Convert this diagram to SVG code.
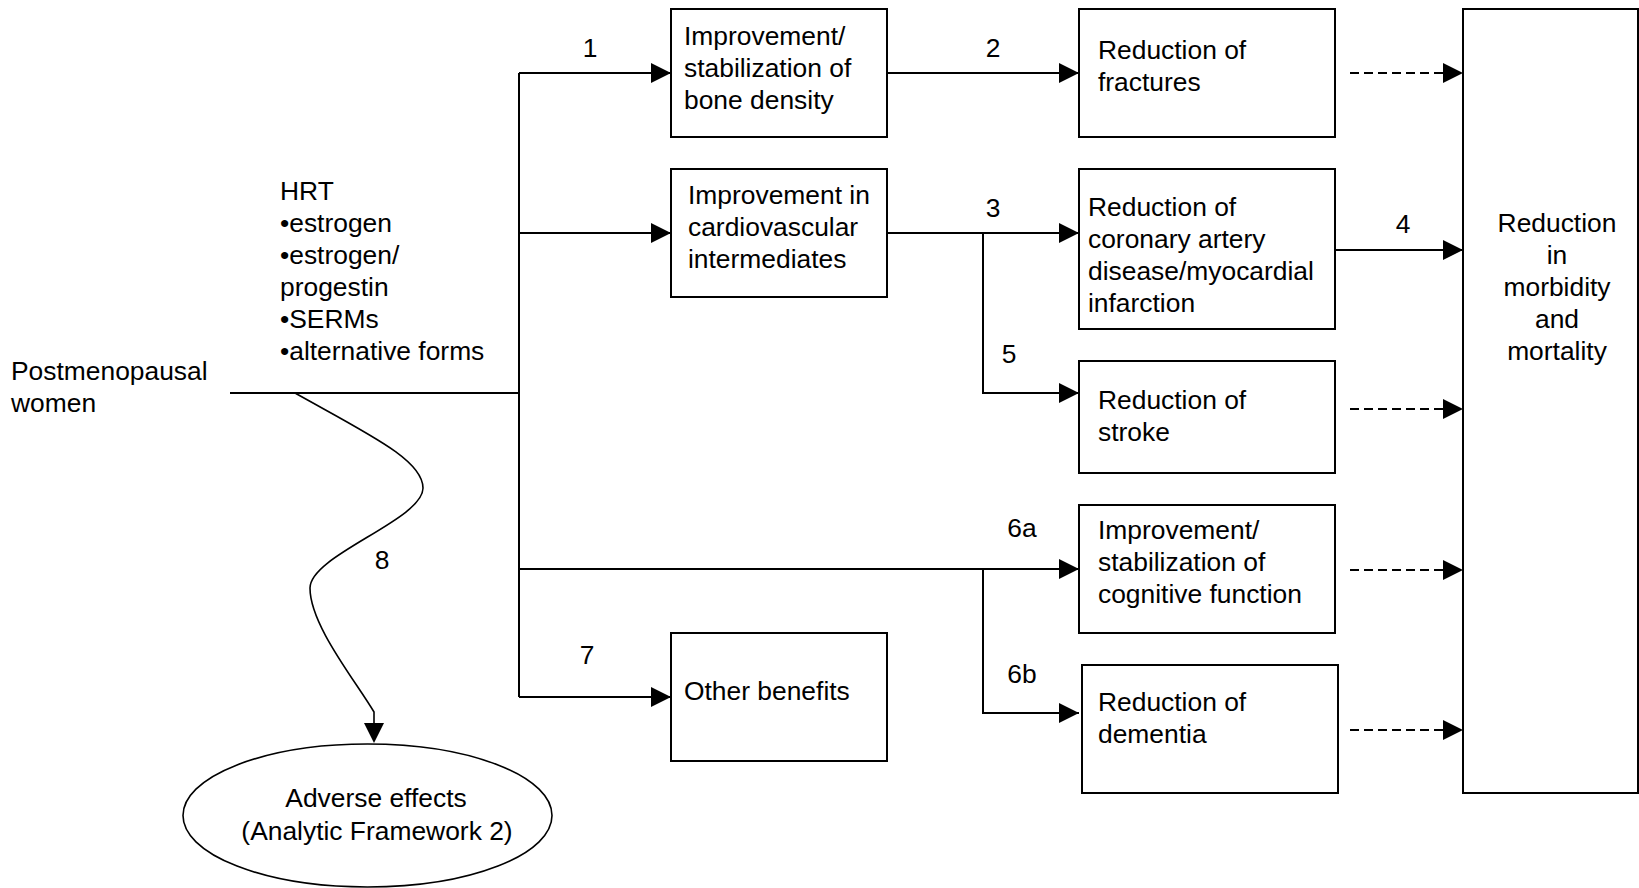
<svg xmlns="http://www.w3.org/2000/svg" width="1639" height="888" viewBox="0 0 1639 888">
<defs>
<style>
text{font-family:"Liberation Sans",Arial,sans-serif;font-size:26.4px;fill:#000}
.box{fill:#fff;stroke:#000;stroke-width:2}
.ell{fill:#fff;stroke:#000;stroke-width:1.6}
.ln{fill:none;stroke:#000;stroke-width:2}
.arr{fill:none;stroke:#000;stroke-width:2;marker-end:url(#ah)}
.dash{fill:none;stroke:#000;stroke-width:2;stroke-dasharray:9 5;marker-end:url(#ah)}
.curve{fill:none;stroke:#000;stroke-width:1.6}
.c{text-anchor:middle}
</style>
<marker id="ah" markerUnits="userSpaceOnUse" markerWidth="20" markerHeight="20" refX="20" refY="10" orient="auto" viewBox="0 0 20 20">
<path d="M0,0 L20,10 L0,20 z" fill="#000"/>
</marker>
</defs>
<rect width="1639" height="888" fill="#fff"/>

<g id="connectors">
<path class="ln" d="M230,393 H519"/>
<path class="ln" d="M519,73 V697"/>
<path class="arr" d="M519,73 H671"/>
<path class="arr" d="M519,233 H671"/>
<path class="arr" d="M519,569 H1079"/>
<path class="arr" d="M519,697 H671"/>
<path class="arr" d="M887,73 H1079"/>
<path class="arr" d="M887,233 H1079"/>
<path class="arr" d="M983,233 V393 H1079"/>
<path class="arr" d="M983,569 V713 H1079"/>
<path class="arr" d="M1335,250 H1463"/>
<path class="dash" d="M1350,73 H1463"/>
<path class="dash" d="M1350,409 H1463"/>
<path class="dash" d="M1350,570 H1463"/>
<path class="dash" d="M1350,730 H1463"/>
<path class="curve" d="M295,393 C370,435 423,460 423,488 C423,520 310,555 310,588 C310,625 355,680 374,712 L374,724"/>
<path d="M364,723 L384,723 L374,743 z" fill="#000"/>
<text class="c" x="590" y="57">1</text>
<text class="c" x="993" y="57">2</text>
<text class="c" x="993" y="217">3</text>
<text class="c" x="1403" y="233">4</text>
<text class="c" x="1009" y="363">5</text>
<text class="c" x="1022" y="537">6a</text>
<text class="c" x="1022" y="683">6b</text>
<text class="c" x="587" y="664">7</text>
<text class="c" x="382" y="569">8</text>
</g>

<g id="postmenopausal">
<text x="11" y="380">Postmenopausal</text>
<text x="11" y="412">women</text>
</g>

<g id="hrt">
<text x="280" y="200">HRT</text>
<text x="280" y="232">•estrogen</text>
<text x="280" y="264">•estrogen/</text>
<text x="280" y="296">progestin</text>
<text x="280" y="328">•SERMs</text>
<text x="280" y="359.5">•alternative forms</text>
</g>

<g id="bone">
<rect class="box" x="671" y="9" width="216" height="128"/>
<text x="684" y="45">Improvement/</text>
<text x="684" y="77">stabilization of</text>
<text x="684" y="108.5">bone density</text>
</g>

<g id="cardio">
<rect class="box" x="671" y="169" width="216" height="128"/>
<text x="688" y="204">Improvement in</text>
<text x="688" y="236">cardiovascular</text>
<text x="688" y="268">intermediates</text>
</g>

<g id="other">
<rect class="box" x="671" y="633" width="216" height="128"/>
<text x="684" y="700">Other benefits</text>
</g>

<g id="fractures">
<rect class="box" x="1079" y="9" width="256" height="128"/>
<text x="1098" y="58.5">Reduction of</text>
<text x="1098" y="90.5">fractures</text>
</g>

<g id="cad">
<rect class="box" x="1079" y="169" width="256" height="160"/>
<text x="1088" y="216">Reduction of</text>
<text x="1088" y="248">coronary artery</text>
<text x="1088" y="280">disease/myocardial</text>
<text x="1088" y="312">infarction</text>
</g>

<g id="stroke">
<rect class="box" x="1079" y="361" width="256" height="112"/>
<text x="1098" y="409">Reduction of</text>
<text x="1098" y="441">stroke</text>
</g>

<g id="cognitive">
<rect class="box" x="1079" y="505" width="256" height="128"/>
<text x="1098" y="538.5">Improvement/</text>
<text x="1098" y="570.5">stabilization of</text>
<text x="1098" y="602.5">cognitive function</text>
</g>

<g id="dementia">
<rect class="box" x="1082" y="665" width="256" height="128"/>
<text x="1098" y="711">Reduction of</text>
<text x="1098" y="743">dementia</text>
</g>

<g id="outcome">
<rect class="box" x="1463" y="9" width="175" height="784"/>
<text class="c" x="1557" y="232">Reduction</text>
<text class="c" x="1557" y="264">in</text>
<text class="c" x="1557" y="296">morbidity</text>
<text class="c" x="1557" y="328">and</text>
<text class="c" x="1557" y="360">mortality</text>
</g>

<g id="adverse">
<ellipse class="ell" cx="367.5" cy="815.5" rx="184.5" ry="71.5"/>
<text class="c" x="376" y="807">Adverse effects</text>
<text class="c" x="377" y="840">(Analytic Framework 2)</text>
</g>
</svg>
